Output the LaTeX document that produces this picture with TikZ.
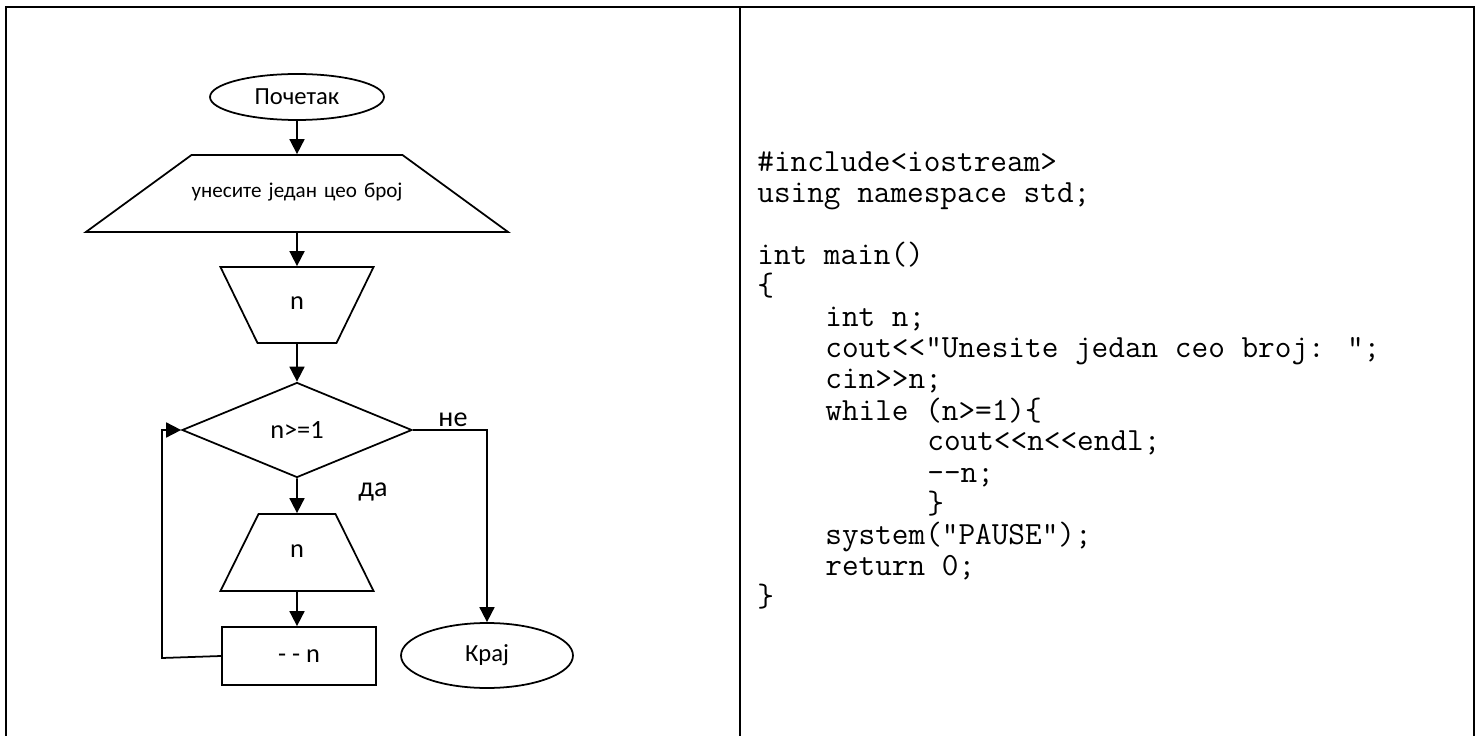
\documentclass[tikz,border=0pt]{standalone}
\usepackage{fontspec}
\setmainfont{Carlito}
\usetikzlibrary{arrows.meta}
\usetikzlibrary{shapes.geometric}
\usetikzlibrary{positioning}

\tikzset{
  box/.style={draw, line width=1pt, inner sep=0pt, font=\fontsize{15}{17}\selectfont},
  term/.style={box, ellipse},
  trap/.style={box, trapezium, align=center},
  arr/.style={line width=1pt, -{Triangle[length=0.3cm,width=0.3cm]}},
  lbl/.style={inner sep=0pt, font=\fontsize{16}{18}\selectfont},
  codeline/.style={anchor=base west, inner sep=0pt, font=\ttfamily\fontsize{18.4}{21}\selectfont},
}

\begin{document}
\begin{tikzpicture}[x=0.02cm, y=-0.02cm]
    \useasboundingbox (0,0) rectangle (1481,736);
    % table frame
    \draw[line width=1.15pt] (6,736) -- (6,7) -- (1474,7) -- (1474,736);
    \draw[line width=1.15pt] (740,7) -- (740,736);

    % flowchart
    \node[term, minimum width=3.48cm, minimum height=0.92cm, font=\fontsize{14}{16}\selectfont] (start) at (297,97) {Почетак};
    \node[trap, trapezium left angle=36.1, trapezium right angle=36.1, text width=4.22cm,
          text height=0.855cm, text depth=0.685cm, font=\fontsize{12}{14}\selectfont] (inp) at (297,193.5) {унесите један цео број};
    \node[trap, shape border rotate=180, trapezium left angle=64, trapezium right angle=64,
          text width=1.58cm, text height=0.86cm, text depth=0.66cm] (rd) at (297,305) {n};
    \node[box, diamond, aspect=2.4, minimum width=4.6cm, minimum height=1.9cm] (cond) at (297,430) {n>=1};
    \node[trap, trapezium left angle=63.7, trapezium right angle=63.7,
          text width=1.54cm, text height=0.87cm, text depth=0.67cm] (out) at (297,552.5) {n};
    \node[box, rectangle, minimum width=3.08cm, minimum height=1.16cm] (dec) at (299,656) {- - n};
    \node[term, minimum width=3.44cm, minimum height=1.3cm, font=\fontsize{14}{16}\selectfont] (kraj) at (487,655.5) {Крај};

    \draw[arr] (start) -- (inp);
    \draw[arr] (inp) -- (rd);
    \draw[arr] (rd) -- (cond);
    \draw[arr] (cond) -- (out);
    \draw[arr] (out.south) -- (out.south |- dec.north);
    \draw[arr] (cond.east) -| (kraj.north);
    \coordinate (back) at (162,658);
    \draw[arr] (dec.west) -- (back) |- (cond.west);

    \node[lbl] (ne) at (453,420) {не};
    \node[lbl] (da) at (373,492) {да};

    % program text
    \foreach \r/\c/\txt in {0/0/{\#include<iostream>}, 1/0/{using namespace std;}, 3/0/{int main()},
        4/0/{\{}, 5/4/{int n;}, 6/4/{cout<<"Unesite jedan ceo broj: ";}, 7/4/{cin>>n;},
        8/4/{while (n>=1)\{}, 9/10/{cout<<n<<endl;}, 10/10/{-{}-n;}, 11/10/{\}},
        12/4/{system("PAUSE");}, 13/4/{return 0;}, 14/0/{\}}}
      \node[codeline] (c\r) at (757+17*\c, 172+31*\r) {\txt};
\end{tikzpicture}
\end{document}
